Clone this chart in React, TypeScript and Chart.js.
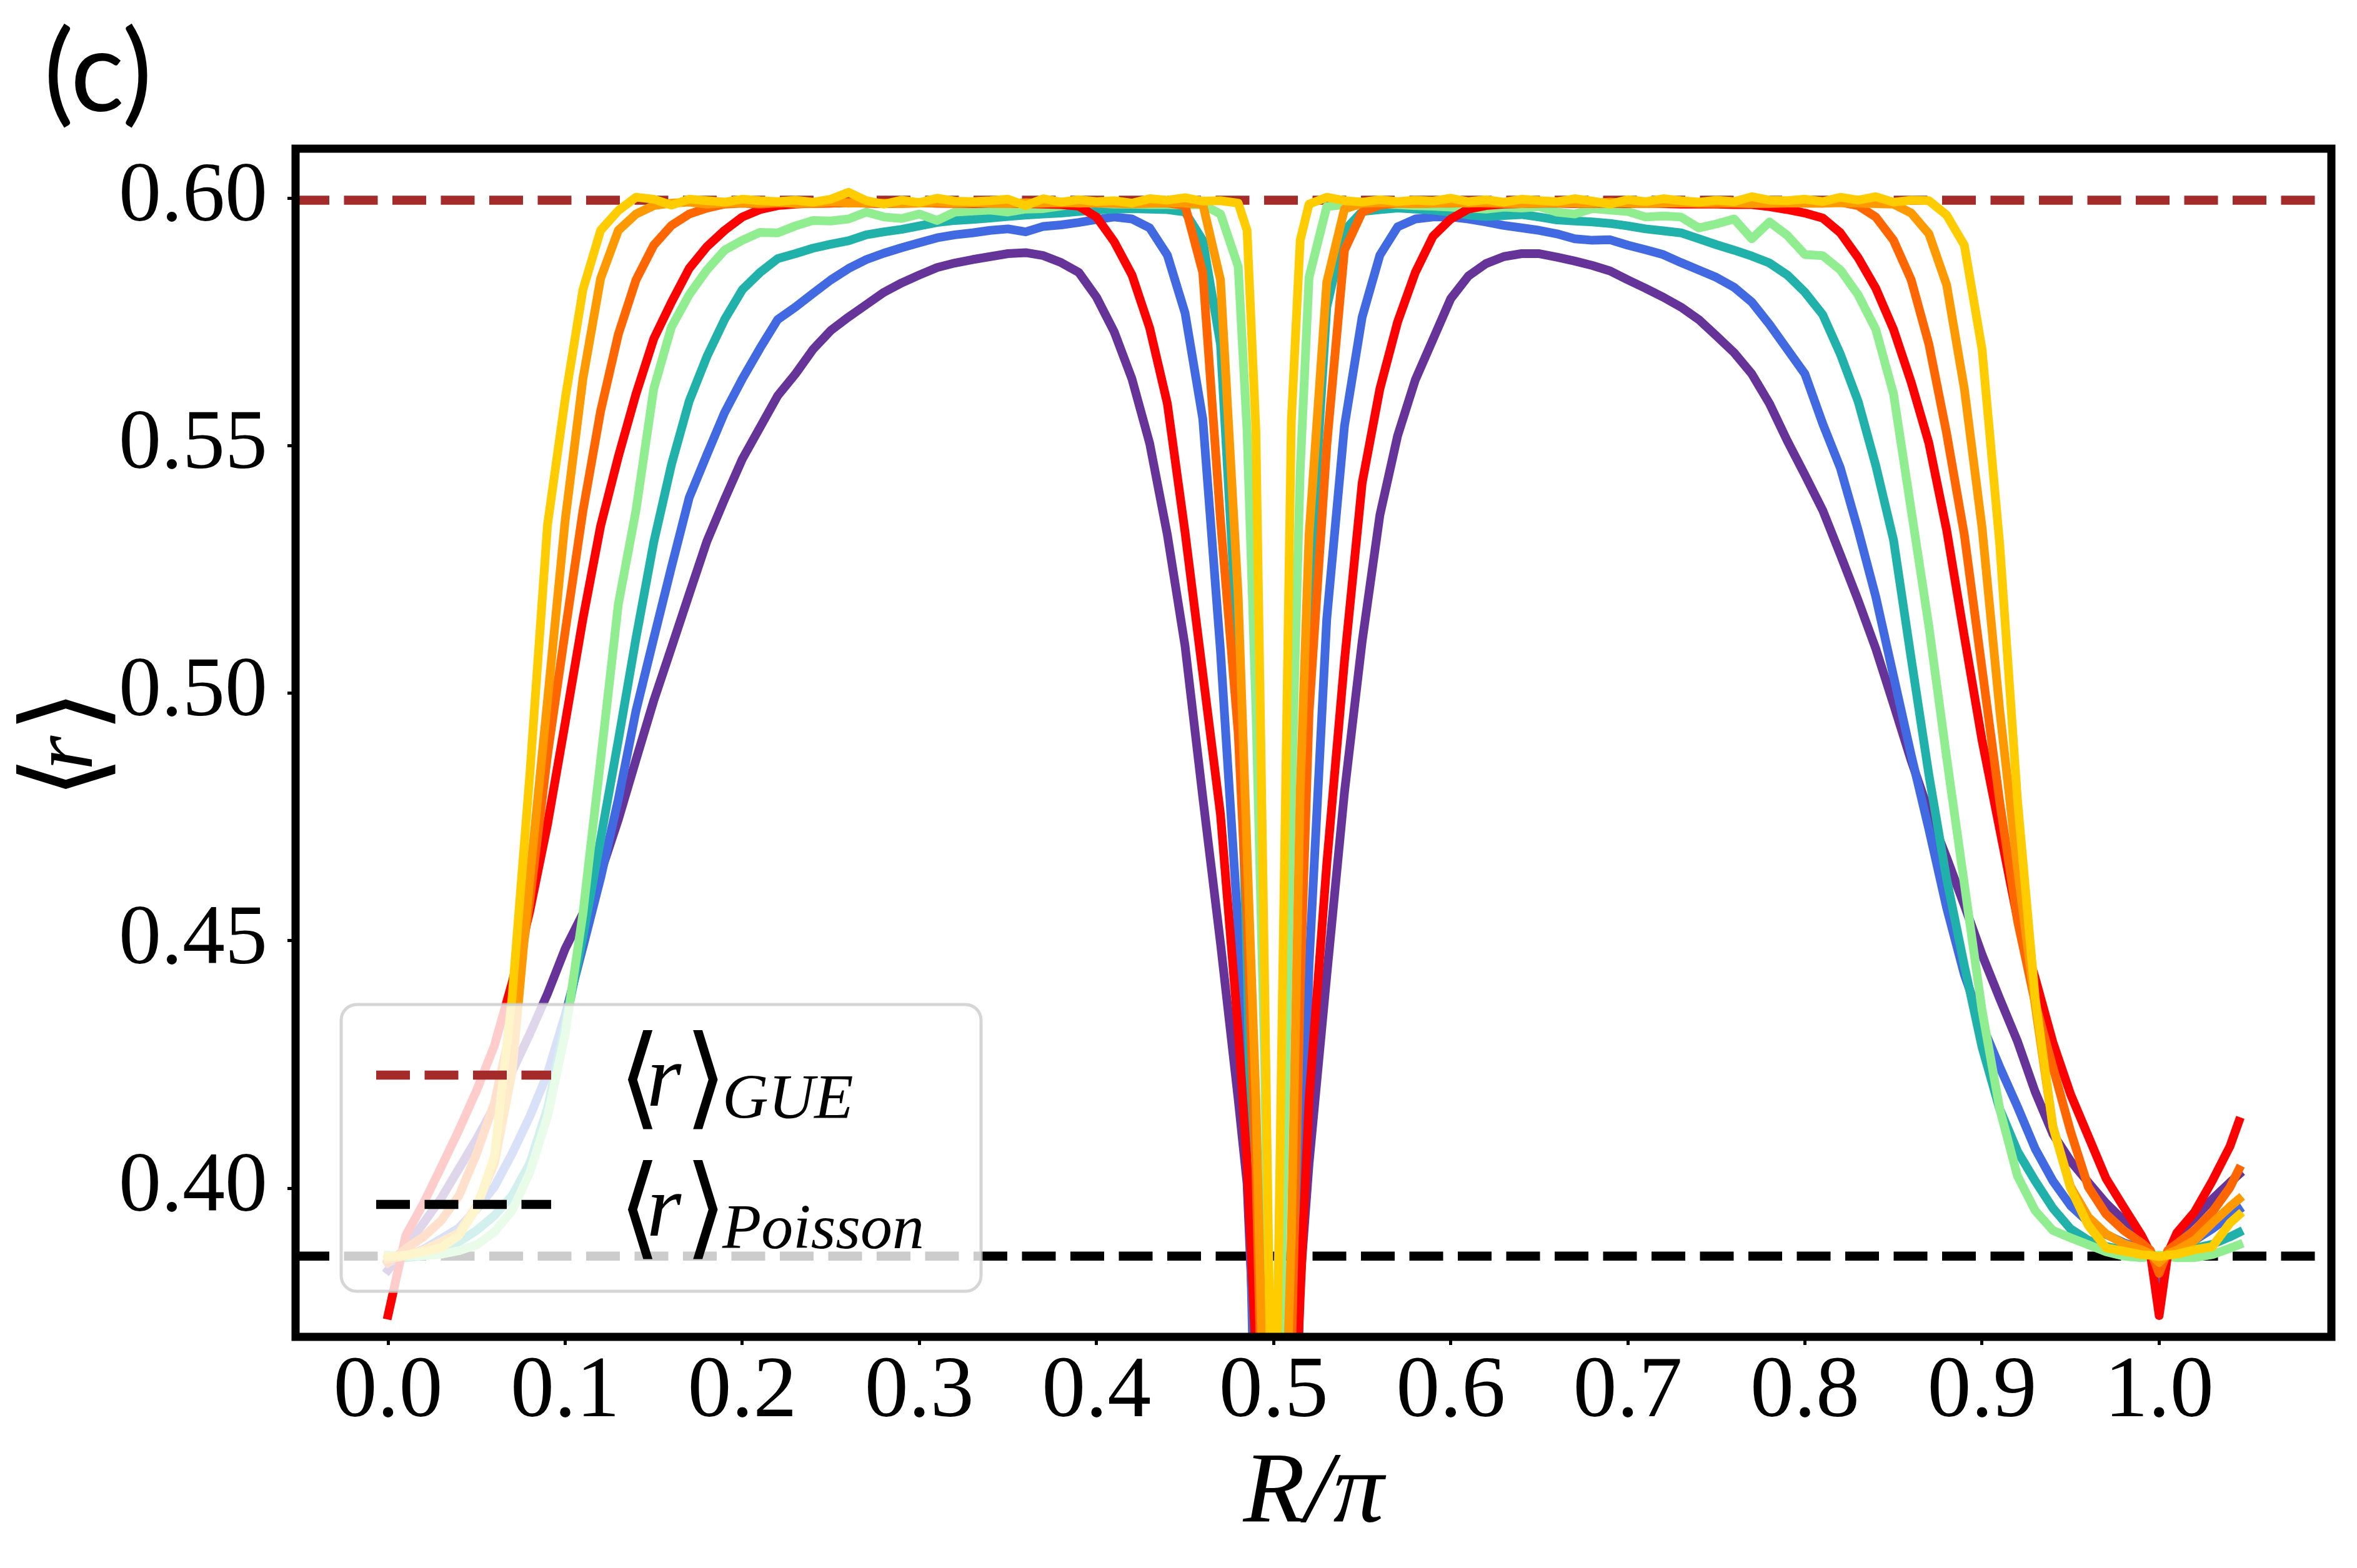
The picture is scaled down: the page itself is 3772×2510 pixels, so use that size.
import React, { useRef, useEffect } from 'react';
import { Chart, registerables } from 'chart.js';

Chart.register(...registerables);

const W = 3772;
const H = 2510;

// R/pi sample points (denser around the dips at 0.5 and 1.0)
const rOverPi = [
  0.0, 0.01, 0.02, 0.03, 0.04, 0.05, 0.06, 0.07, 0.08, 0.09,
  0.1, 0.11, 0.12, 0.13, 0.14, 0.15, 0.16, 0.17, 0.18, 0.19,
  0.2, 0.21, 0.22, 0.23, 0.24, 0.25, 0.26, 0.27, 0.28, 0.29,
  0.3, 0.31, 0.32, 0.33, 0.34, 0.35, 0.36, 0.37, 0.38, 0.39,
  0.4, 0.41, 0.42, 0.43, 0.44, 0.45, 0.46, 0.47, 0.48,
  0.485, 0.49, 0.495, 0.5, 0.505, 0.51, 0.515,
  0.52, 0.53, 0.54, 0.55, 0.56, 0.57, 0.58, 0.59,
  0.6, 0.61, 0.62, 0.63, 0.64, 0.65, 0.66, 0.67, 0.68, 0.69,
  0.7, 0.71, 0.72, 0.73, 0.74, 0.75, 0.76, 0.77, 0.78, 0.79,
  0.8, 0.81, 0.82, 0.83, 0.84, 0.85, 0.86, 0.87, 0.88, 0.89,
  0.9, 0.91, 0.92, 0.93, 0.94, 0.95, 0.96, 0.97, 0.98, 0.99,
  0.995, 1.0, 1.005, 1.01, 1.02, 1.03, 1.04, 1.045,
];

// <r> for each curve
const rPurple = [
  0.3835, 0.388, 0.393, 0.398, 0.404, 0.41, 0.4165, 0.4236, 0.4312, 0.4393,
  0.4484, 0.4555, 0.4637, 0.4745, 0.4866, 0.4985, 0.5092, 0.52, 0.5307, 0.5392,
  0.5473, 0.5537, 0.5601, 0.5645, 0.5695, 0.5733, 0.576, 0.5785, 0.581, 0.5829,
  0.5845, 0.586, 0.5869, 0.5876, 0.5882, 0.5888, 0.589, 0.5884, 0.587, 0.585,
  0.58, 0.573, 0.5635, 0.5505, 0.532, 0.5095, 0.479, 0.4495, 0.418,
  0.401, 0.36, 0.3, 0.26, 0.28, 0.315, 0.381,
  0.405, 0.443, 0.48, 0.5105, 0.536, 0.552, 0.5633, 0.5715,
  0.5797, 0.5843, 0.5868, 0.5882, 0.5888, 0.5888, 0.5881, 0.5873, 0.5864, 0.5853,
  0.5835, 0.5818, 0.58, 0.578, 0.5755, 0.5722, 0.5688, 0.5645, 0.5585, 0.551,
  0.5441, 0.537, 0.528, 0.5188, 0.509, 0.4978, 0.4864, 0.476, 0.4668, 0.4572,
  0.4472, 0.4383, 0.4297, 0.4195, 0.411, 0.4055, 0.4012, 0.397, 0.3935, 0.3898,
  0.387, 0.377, 0.387, 0.3905, 0.394, 0.3978, 0.4012, 0.4028,
];

const rBlue = [
  0.385, 0.3862, 0.3877, 0.3898, 0.392, 0.3958, 0.4003, 0.407, 0.4145, 0.4232,
  0.435, 0.4487, 0.4627, 0.4786, 0.4965, 0.5111, 0.5255, 0.5395, 0.5482, 0.5567,
  0.5635, 0.5697, 0.5755, 0.578, 0.5808, 0.5835, 0.5858, 0.5876, 0.5889, 0.59,
  0.591, 0.592, 0.5926, 0.593, 0.5935, 0.5938, 0.5932, 0.5943, 0.5946, 0.5951,
  0.5957, 0.5962, 0.5958, 0.594, 0.5885, 0.5768, 0.5554, 0.5085, 0.4525,
  0.418, 0.34, 0.29, 0.26, 0.28, 0.3, 0.385,
  0.445, 0.515, 0.554, 0.576, 0.5885, 0.5942, 0.5958, 0.5962,
  0.5962, 0.5958, 0.5952, 0.5945, 0.594, 0.5935, 0.5928, 0.5918, 0.5915, 0.5916,
  0.5905, 0.5896, 0.5886, 0.587, 0.5855, 0.584, 0.582, 0.579, 0.5745, 0.5695,
  0.5645, 0.5545, 0.5455, 0.533, 0.5195, 0.5035, 0.4875, 0.4725, 0.4567, 0.4432,
  0.433, 0.4245, 0.4165, 0.408, 0.4015, 0.3965, 0.3932, 0.3907, 0.389, 0.3878,
  0.3868, 0.381, 0.3868, 0.388, 0.3895, 0.3918, 0.3945, 0.3957,
];

const rTeal = [
  0.3857, 0.386, 0.3864, 0.3876, 0.3892, 0.3915, 0.3945, 0.3985, 0.405, 0.4162,
  0.433, 0.4508, 0.4705, 0.4905, 0.5112, 0.5305, 0.5462, 0.559, 0.568, 0.5755,
  0.5815, 0.585, 0.5878, 0.5888, 0.5899, 0.5907, 0.5914, 0.5926, 0.5932, 0.5937,
  0.5944, 0.5951, 0.5955, 0.5957, 0.596, 0.5963, 0.5966, 0.5968, 0.597, 0.5973,
  0.5976, 0.5978, 0.5979, 0.5978, 0.5977, 0.5972, 0.5915, 0.5705, 0.507,
  0.445, 0.37, 0.31, 0.27, 0.3, 0.36, 0.44,
  0.52, 0.578, 0.5935, 0.5973, 0.5977, 0.598, 0.5978, 0.5976,
  0.5972, 0.5966, 0.5963, 0.5965, 0.5967, 0.5962, 0.5956, 0.5954, 0.5952, 0.5949,
  0.5944, 0.5938, 0.5934, 0.593, 0.5918, 0.5906, 0.5895, 0.5883, 0.5869, 0.5845,
  0.581, 0.5765, 0.5685, 0.559, 0.546, 0.531, 0.507, 0.4835, 0.4625, 0.445,
  0.4285, 0.416, 0.4075, 0.4015, 0.396, 0.3918, 0.3895, 0.3883, 0.3875, 0.387,
  0.3868, 0.386, 0.3868, 0.3872, 0.3879, 0.3887, 0.3902, 0.3911,
];

const rLightGreen = [
  0.3865, 0.3863, 0.3864, 0.3867, 0.3874, 0.3886, 0.3912, 0.3955, 0.4032, 0.4145,
  0.4312, 0.4555, 0.4865, 0.518, 0.537, 0.5615, 0.574, 0.5805, 0.5855, 0.5895,
  0.5915, 0.5931, 0.593, 0.5944, 0.5955, 0.5954, 0.5958, 0.5972, 0.5962, 0.5959,
  0.5968, 0.5955, 0.5972, 0.5974, 0.5976, 0.5972, 0.5978, 0.5979, 0.5984, 0.599,
  0.599, 0.5988, 0.5988, 0.5987, 0.5987, 0.5986, 0.5987, 0.5968, 0.5862,
  0.553, 0.497, 0.425, 0.3, 0.39, 0.478, 0.545,
  0.584, 0.5983, 0.5987, 0.5985, 0.5988, 0.5987, 0.5985, 0.5984,
  0.5982, 0.598, 0.5978, 0.5982, 0.598, 0.5983, 0.5972, 0.5968, 0.5979, 0.5976,
  0.5973, 0.5962, 0.5964, 0.5962, 0.594, 0.5948, 0.5958, 0.5918, 0.5952, 0.5925,
  0.5886, 0.5884, 0.5855, 0.5805, 0.5735, 0.5605, 0.537, 0.5135, 0.487, 0.4615,
  0.436, 0.416, 0.4025, 0.3955, 0.3915, 0.39, 0.3886, 0.3872, 0.3863, 0.386,
  0.3862, 0.3865, 0.3862, 0.386, 0.386, 0.3866, 0.3879, 0.3886,
];

const rRed = [
  0.3744, 0.3905, 0.397, 0.4043, 0.4118, 0.4198, 0.4288, 0.4415, 0.456, 0.4735,
  0.494, 0.515, 0.5338, 0.5478, 0.5605, 0.5716, 0.579, 0.5858, 0.5902, 0.5935,
  0.5962, 0.5977, 0.5985, 0.5988, 0.599, 0.599, 0.5991, 0.599, 0.5989, 0.599,
  0.5991, 0.599, 0.599, 0.5989, 0.599, 0.599, 0.5989, 0.5988, 0.5987, 0.5984,
  0.5962, 0.5912, 0.5845, 0.5738, 0.5585, 0.5325, 0.504, 0.4755, 0.432,
  0.405, 0.366, 0.3, 0.26, 0.29, 0.335, 0.378,
  0.418, 0.4655, 0.5065, 0.5425, 0.5615, 0.575, 0.585, 0.5923,
  0.5958, 0.5978, 0.5985, 0.5988, 0.5989, 0.599, 0.599, 0.5989, 0.599, 0.599,
  0.5989, 0.599, 0.5989, 0.5988, 0.5988, 0.5988, 0.5987, 0.5987, 0.5983, 0.5977,
  0.597, 0.596, 0.593, 0.588, 0.5818, 0.5735, 0.5628, 0.5505, 0.533, 0.5115,
  0.4905, 0.4725, 0.4545, 0.4425, 0.4295, 0.419, 0.4105, 0.402, 0.3962, 0.3905,
  0.387, 0.3743, 0.387, 0.391, 0.3952, 0.4015, 0.4085, 0.4135,
];

const rOrangeRed = [
  0.385, 0.3878, 0.3902, 0.3935, 0.3985, 0.407, 0.4172, 0.4335, 0.458, 0.4875,
  0.5125, 0.5368, 0.557, 0.5725, 0.5835, 0.5905, 0.5945, 0.5968, 0.598, 0.5988,
  0.599, 0.5988, 0.599, 0.5991, 0.5989, 0.599, 0.5992, 0.599, 0.5989, 0.599,
  0.5991, 0.599, 0.5989, 0.599, 0.5991, 0.599, 0.5989, 0.599, 0.599, 0.5991,
  0.599, 0.599, 0.5989, 0.599, 0.599, 0.5985, 0.585, 0.535, 0.492,
  0.455, 0.404, 0.33, 0.28, 0.32, 0.365, 0.44,
  0.496, 0.55, 0.5895, 0.5972, 0.5986, 0.599, 0.5989, 0.599,
  0.599, 0.5991, 0.599, 0.5989, 0.599, 0.599, 0.5991, 0.599, 0.5989, 0.599,
  0.599, 0.5989, 0.599, 0.5991, 0.599, 0.5989, 0.599, 0.599, 0.5989, 0.599,
  0.599, 0.599, 0.5992, 0.5985, 0.5962, 0.5915, 0.5835, 0.5705, 0.5525, 0.532,
  0.505, 0.478, 0.4541, 0.4375, 0.4245, 0.4115, 0.4003, 0.3948, 0.3915, 0.389,
  0.3875, 0.3828, 0.3875, 0.3888, 0.3915, 0.3952, 0.4002, 0.4038,
];

const rOrange = [
  0.3857, 0.3864, 0.3875, 0.3892, 0.391, 0.3965, 0.405, 0.4235, 0.4625, 0.4985,
  0.535, 0.5635, 0.5838, 0.5935, 0.5968, 0.5985, 0.599, 0.5992, 0.5988, 0.599,
  0.5991, 0.599, 0.5992, 0.5989, 0.599, 0.5993, 0.599, 0.5991, 0.599, 0.5989,
  0.599, 0.5992, 0.599, 0.5991, 0.599, 0.5989, 0.5991, 0.599, 0.5992, 0.599,
  0.5991, 0.599, 0.5989, 0.599, 0.5991, 0.599, 0.5988, 0.5835, 0.5195,
  0.468, 0.418, 0.345, 0.29, 0.33, 0.39, 0.48,
  0.532, 0.583, 0.5978, 0.599, 0.5991, 0.599, 0.5989, 0.599,
  0.5991, 0.599, 0.5992, 0.599, 0.5989, 0.599, 0.5991, 0.599, 0.599, 0.5992,
  0.599, 0.5989, 0.599, 0.5991, 0.599, 0.5992, 0.599, 0.5989, 0.599, 0.5991,
  0.599, 0.599, 0.5991, 0.599, 0.5989, 0.5988, 0.597, 0.5928, 0.5825, 0.5615,
  0.5335, 0.4965, 0.4646, 0.437, 0.4125, 0.4003, 0.3942, 0.3908, 0.3888, 0.3876,
  0.3868, 0.385, 0.3868, 0.3875, 0.3895, 0.393, 0.3963, 0.3978,
];

const rGold = [
  0.3862, 0.3865, 0.3872, 0.388, 0.3905, 0.396, 0.4065, 0.4385, 0.4835, 0.534,
  0.5595, 0.5815, 0.5935, 0.5975, 0.6002, 0.5998, 0.5986, 0.5998, 0.5995, 0.5992,
  0.5998, 0.5995, 0.5993, 0.5996, 0.5992, 0.5998, 0.6012, 0.5995, 0.5988, 0.5996,
  0.5991, 0.6, 0.5994, 0.5993, 0.5995, 0.5998, 0.5985, 0.5999, 0.5992, 0.5997,
  0.5993, 0.5995, 0.599, 0.5999, 0.5996, 0.6001, 0.5994, 0.5995, 0.599,
  0.5935, 0.553, 0.44, 0.32, 0.44, 0.555, 0.5915,
  0.5988, 0.6002, 0.5995, 0.5992, 0.5997, 0.5993, 0.5996, 0.5994,
  0.6, 0.5993, 0.5997, 0.5992, 0.5998, 0.5995, 0.5993, 0.5999, 0.5994, 0.5988,
  0.5997, 0.5993, 0.5999, 0.5995, 0.5992, 0.5996, 0.5993, 0.6003, 0.5996, 0.5995,
  0.5998, 0.5993, 0.6002, 0.5996, 0.6003, 0.5992, 0.5996, 0.5995, 0.5966, 0.5905,
  0.5695, 0.53, 0.4785, 0.4385, 0.4125, 0.4, 0.3925, 0.388, 0.3873, 0.3866,
  0.3865, 0.3862, 0.3865, 0.3867, 0.3876, 0.3882, 0.393, 0.3946,
];

// reference levels
const gueValue = 0.5996;
const poissonValue = 0.3863;

const xTicks = [0, 0.1, 0.2, 0.3, 0.4, 0.5, 0.6, 0.7, 0.8, 0.9, 1.0];
const yTicks = [0.4, 0.45, 0.5, 0.55, 0.6];
const xMin = -0.05225;
const xMax = 1.09725;

// drawn bottom to top (gold ends up on top)
const curves = [
  { values: rPurple, color: '#663399' },
  { values: rBlue, color: '#4169E1' },
  { values: rTeal, color: '#20B2AA' },
  { values: rLightGreen, color: '#90EE90' },
  { values: rRed, color: '#FF0000' },
  { values: rOrangeRed, color: '#FF6600' },
  { values: rOrange, color: '#FF9900' },
  { values: rGold, color: '#FFCC00' },
];

const legendItems = [
  { sub: 'GUE', color: '#A52A2A' },
  { sub: 'Poisson', color: '#000000' },
];

const SERIF = '"Liberation Serif", "DejaVu Serif", serif';
const BRACKET_FONT = '200 178px "DejaVu Sans", "DejaVu Serif", sans-serif';
const DASH = [54, 23.5];

// draws <r> as bracket / italic r / bracket starting at x on the given baseline
function drawMeanR(ctx: CanvasRenderingContext2D, x: number, base: number) {
  ctx.textAlign = 'left';
  ctx.textBaseline = 'alphabetic';
  ctx.font = BRACKET_FONT;
  ctx.fillText('⟨', x - 6, base + 14);
  ctx.font = `italic 142px ${SERIF}`;
  ctx.fillText('r', x + 40, base);
  ctx.font = BRACKET_FONT;
  ctx.fillText('⟩', x + 100, base + 14);
}

const decorations = {
  id: 'decorations',
  afterDatasetsDraw(chart: Chart) {
    const { ctx, chartArea: a } = chart;
    ctx.save();
    ctx.strokeStyle = '#000';
    ctx.lineWidth = 13;
    ctx.lineJoin = 'miter';
    ctx.strokeRect(a.left, a.top, a.right - a.left, a.bottom - a.top);
    ctx.restore();
  },
  afterDraw(chart: Chart) {
    const { ctx, chartArea: a } = chart;
    ctx.save();

    // legend box
    ctx.beginPath();
    ctx.roundRect(546, 1608, 1024, 459, 25);
    ctx.fillStyle = 'rgba(255,255,255,0.8)';
    ctx.fill();
    ctx.lineWidth = 5;
    ctx.strokeStyle = 'rgba(204,204,204,0.8)';
    ctx.stroke();

    legendItems.forEach((item, i) => {
      const lineY = 1721 + i * 207;
      const base = 1770 + i * 208;
      ctx.beginPath();
      ctx.setLineDash(DASH);
      ctx.lineCap = 'butt';
      ctx.lineWidth = 14.5;
      ctx.strokeStyle = item.color;
      ctx.moveTo(602, lineY);
      ctx.lineTo(882, lineY);
      ctx.stroke();
      ctx.setLineDash([]);

      ctx.fillStyle = '#000';
      drawMeanR(ctx, 995, base);
      ctx.font = `italic 102px ${SERIF}`;
      ctx.fillText(item.sub, 1156, base + 20);
    });

    // panel label
    ctx.fillStyle = '#000';
    ctx.font = '180px Lato, "DejaVu Sans", sans-serif';
    ctx.textAlign = 'left';
    ctx.textBaseline = 'alphabetic';
    ctx.fillText('(c)', 70, 178);

    // axis titles
    ctx.font = `italic 162px ${SERIF}`;
    ctx.textAlign = 'center';
    ctx.fillText('R/π', (a.left + a.right) / 2, 2435);

    ctx.translate(147, 1203);
    ctx.rotate(-Math.PI / 2);
    drawMeanR(ctx, -70, 0);

    ctx.restore();
  },
};

export default function App() {
  const canvasRef = useRef<HTMLCanvasElement>(null);

  useEffect(() => {
    if (!canvasRef.current) return;

    const curveSets = curves.map((c, i) => ({
      data: rOverPi.map((x, j) => ({ x, y: c.values[j] })),
      borderColor: c.color,
      borderWidth: 14,
      pointRadius: 0,
      borderJoinStyle: 'round' as const,
      borderCapStyle: 'square' as const,
      tension: 0,
      clip: 0,
      order: curves.length - 1 - i,
    }));

    const refSets = [
      { y: gueValue, color: '#A52A2A' },
      { y: poissonValue, color: '#000000' },
    ].map((r, i) => ({
      data: [{ x: xMin, y: r.y }, { x: xMax, y: r.y }],
      borderColor: r.color,
      borderWidth: 14.5,
      borderDash: DASH,
      borderCapStyle: 'butt' as const,
      pointRadius: 0,
      clip: 0,
      order: 20 + i,
    }));

    const xTickFont = { family: SERIF, size: 140, lineHeight: 1 };
    const yTickFont = { family: SERIF, size: 136, lineHeight: 1 };

    const chart = new Chart(canvasRef.current, {
      type: 'line',
      data: { datasets: [...curveSets, ...refSets] as any },
      options: {
        animation: false,
        responsive: false,
        devicePixelRatio: 1,
        events: [],
        layout: { padding: { top: 238, right: 41, left: 0, bottom: 0 } },
        plugins: { legend: { display: false }, tooltip: { enabled: false } },
        scales: {
          x: {
            type: 'linear',
            min: xMin,
            max: xMax,
            afterBuildTicks: (s: any) => { s.ticks = xTicks.map((value) => ({ value })); },
            afterFit: (s: any) => { s.height = H - 2140; },
            ticks: {
              callback: (v: any) => Number(v).toFixed(1),
              font: xTickFont,
              color: '#000',
              padding: 7,
              maxRotation: 0,
              autoSkip: false,
            },
            grid: { drawOnChartArea: false, drawTicks: true, tickLength: 13, tickWidth: 5, tickColor: '#000' },
            border: { display: false },
          },
          y: {
            type: 'linear',
            min: 0.37,
            max: 0.61,
            afterBuildTicks: (s: any) => { s.ticks = yTicks.map((value) => ({ value })); },
            afterFit: (s: any) => { s.width = 473; },
            ticks: {
              callback: (v: any) => Number(v).toFixed(2),
              font: yTickFont,
              color: '#000',
              padding: 32,
              autoSkip: false,
            },
            grid: { drawOnChartArea: false, drawTicks: true, tickLength: 13, tickWidth: 5, tickColor: '#000' },
            border: { display: false },
          },
        },
      },
      plugins: [decorations],
    });

    return () => chart.destroy();
  }, []);

  return (
    <div style={{ position: 'absolute', left: 0, top: 0, width: W, height: H, background: '#fff' }}>
      <canvas ref={canvasRef} width={W} height={H} style={{ display: 'block', width: W, height: H }} />
    </div>
  );
}
